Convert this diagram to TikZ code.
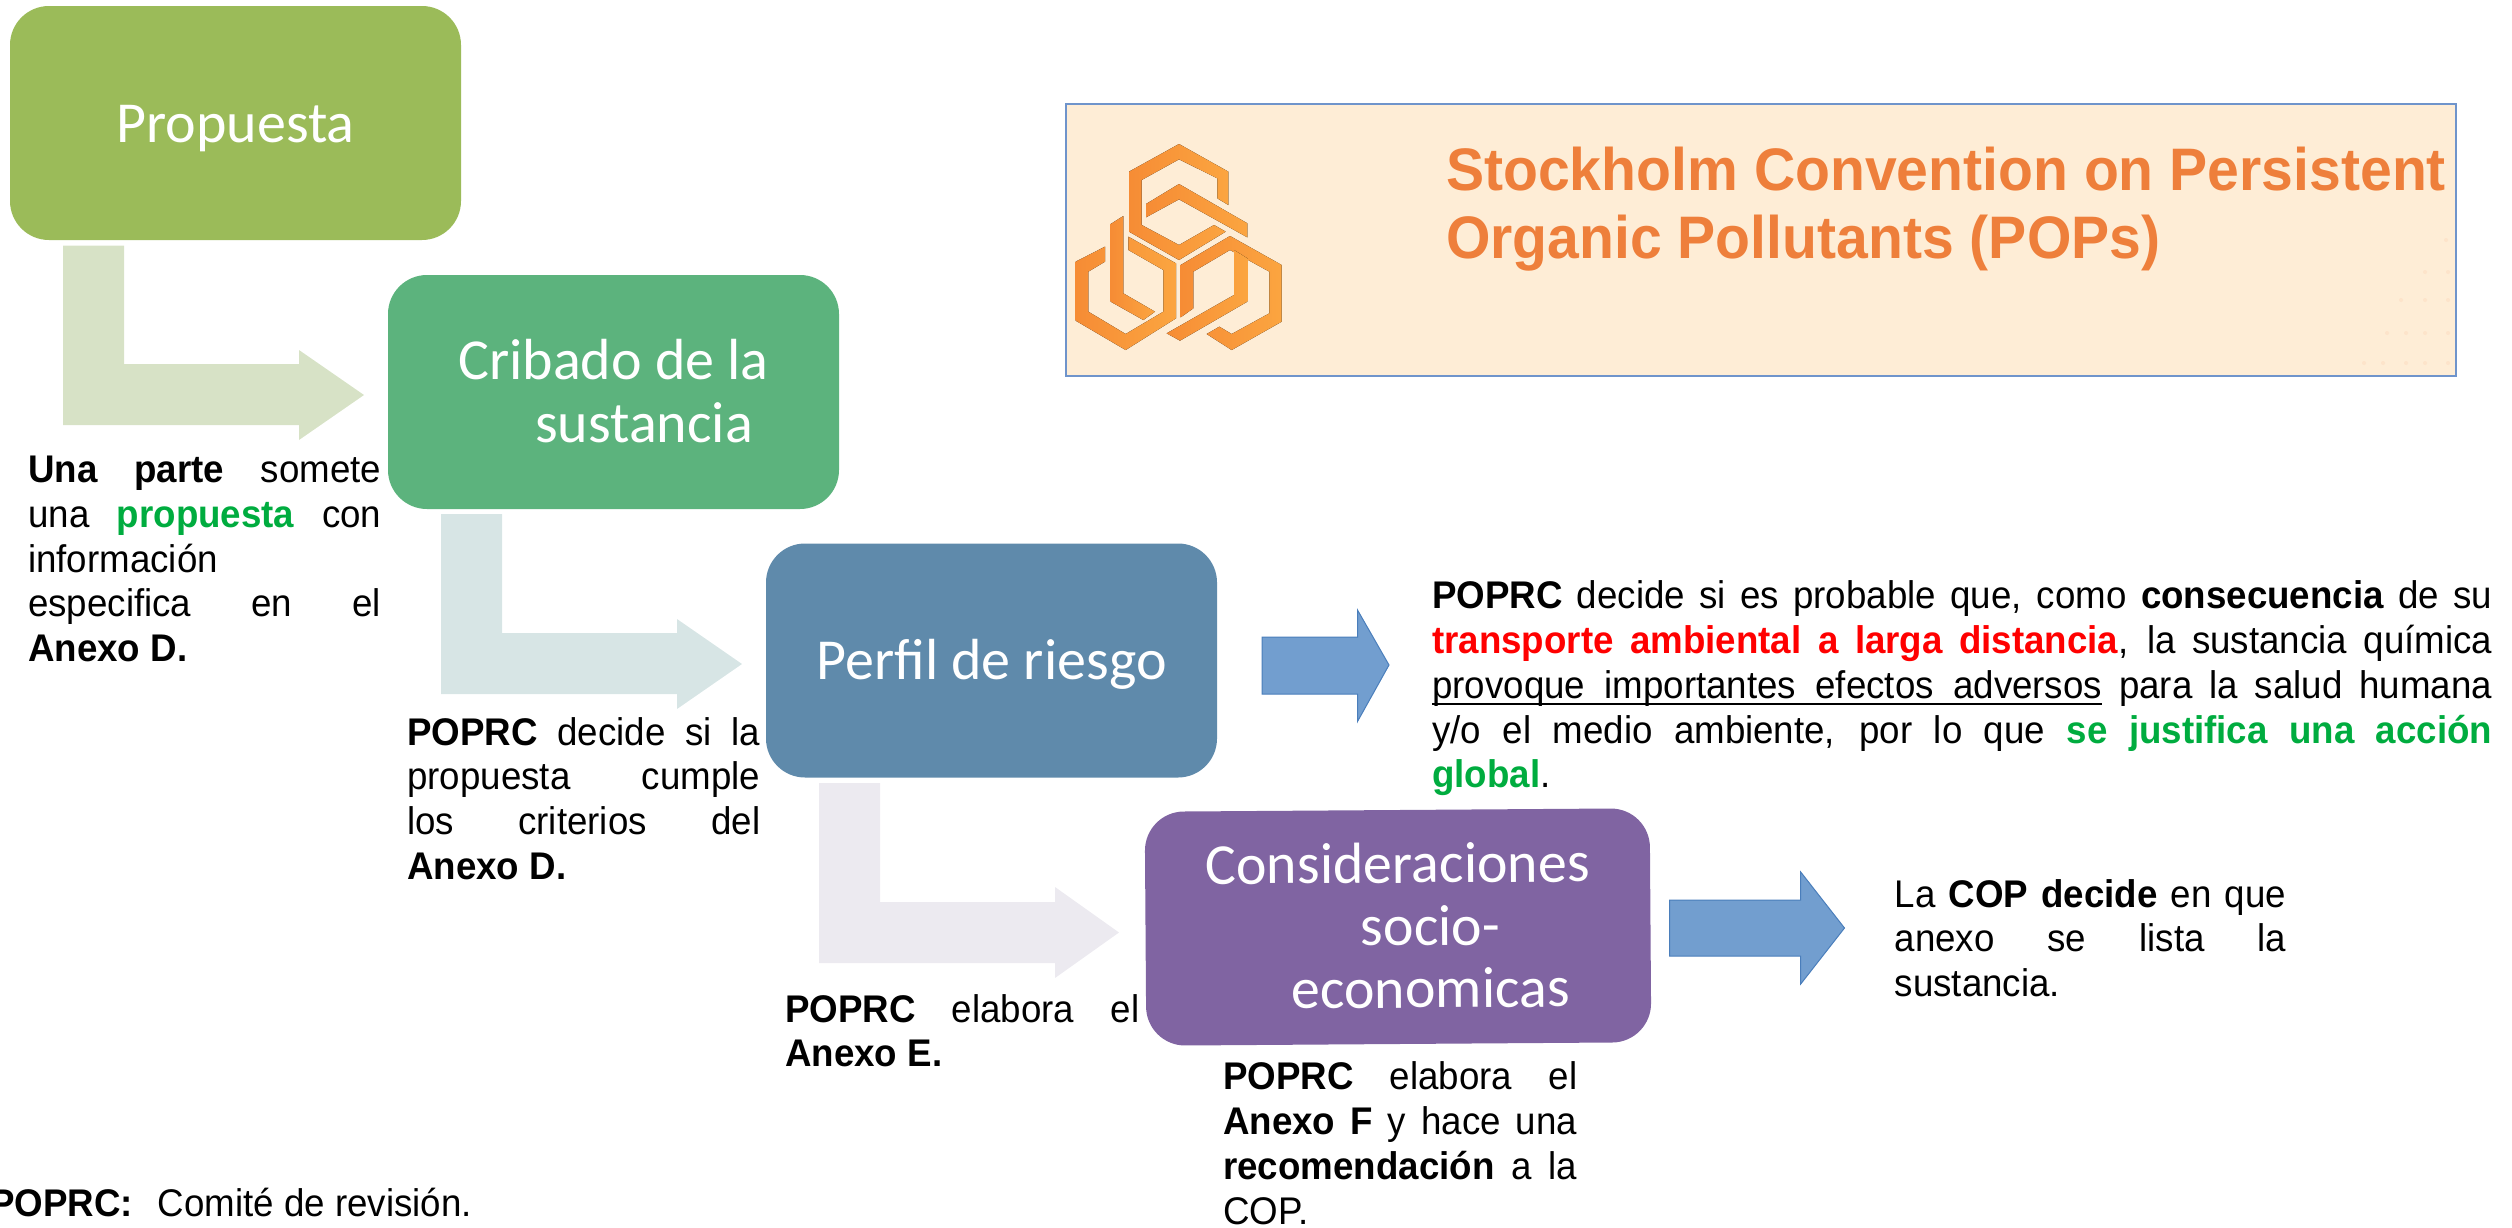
\documentclass[tikz,border=0pt]{standalone}
\usepackage{graphicx}
\usepackage{fontspec}
\setmainfont{Liberation Sans}
\newfontfamily\stagefont{Carlito}
\definecolor{stageA}{HTML}{9BBB59}
\definecolor{stageB}{HTML}{5CB37D}
\definecolor{stageC}{HTML}{5F8AAB}
\definecolor{stageD}{HTML}{8064A2}
\definecolor{bentA}{HTML}{D7E2C6}
\definecolor{bentB}{HTML}{D7E5E5}
\definecolor{bentC}{HTML}{ECEAF0}
\definecolor{blockfill}{HTML}{729ECF}
\definecolor{blockline}{HTML}{4A7EBB}
\definecolor{okgreen}{HTML}{00AC3F}
\definecolor{panelfill}{HTML}{FEEDD6}
\definecolor{panelline}{HTML}{6F94CB}
\definecolor{bannertext}{HTML}{EE7F3B}
\definecolor{logoA}{HTML}{F68C35}
\definecolor{logoB}{HTML}{FBA540}
\newcommand{\stagetext}[2]{\smash{\raisebox{#1}{\vtop{\fontsize{58}{62.5}\selectfont\stagefont #2}}}}
\newcommand{\bodytext}[2]{\scalebox{1}[1.05]{\parbox[t]{#1}{\fontsize{36.7}{42.67}\selectfont #2}}}
\newcommand{\jl}[1]{\hbox to \hsize{#1}}
\tikzset{
  stage/.style={rectangle,rounded corners=39pt,draw=none,inner sep=0pt,minimum width=451pt,minimum height=234pt,text=white},
  para/.style={anchor=base west,inner sep=0pt,text=black},
  bent/.style={draw=none},
  block/.style={fill=blockfill,draw=blockline,line width=1pt},
  logopart/.style={left color=logoA,right color=logoB,draw=none}
}
\begin{document}
\begin{tikzpicture}[x=1pt,y=-1pt]
\useasboundingbox (0,0) rectangle (2512,1227);
\clip (0,0) rectangle (2512,1227);

% bent arrows
\fill[bentA,bent] (63,245.5) -- (124,245.5) -- (124,364) -- (299,364) -- (299,350) -- (364,395) -- (299,440) -- (299,425) -- (63,425) -- cycle;
\fill[bentB,bent] (441,514) -- (502,514) -- (502,633) -- (677,633) -- (677,619) -- (742,664) -- (677,709) -- (677,694) -- (441,694) -- cycle;
\fill[bentC,bent] (819,783) -- (880,783) -- (880,902) -- (1055,902) -- (1055,887) -- (1119,932.5) -- (1055,978) -- (1055,963) -- (819,963) -- cycle;

% stages
\node[stage,fill=stageA] (propuesta) at (235.5,123) {\stagetext{-19pt}{\hbox{Propuesta}}};
\node[stage,fill=stageB] (cribado) at (613.5,392) {\stagetext{12.5pt}{\hbox{Cribado de la}\hbox{\kern77pt sustancia}}};
\node[stage,fill=stageC] (perfil) at (991.5,660.5) {\stagetext{-18.5pt}{\hbox{Perfil de riesgo}}};
\node[stage,fill=stageD,minimum width=505pt,rotate=0.4] (socio) at (1398,927) {\stagetext{44pt}{\hbox{Consideraciones}\hbox{\kern155pt socio-}\hbox{\kern85pt economicas}}};

% block arrows
\draw[block] (1262,637) -- (1357.5,637) -- (1357.5,610) -- (1389,665) -- (1357.5,721.5) -- (1357.5,694) -- (1262,694) -- cycle;
\draw[block] (1669.5,900) -- (1800.7,900) -- (1800.7,872) -- (1844.5,928) -- (1800.7,984) -- (1800.7,956) -- (1669.5,956) -- cycle;

% body text
\node[para] (tA) at (28,482.5) {\bodytext{353pt}{\jl{\textbf{Una parte} somete}\jl{una \textcolor{okgreen}{\textbf{propuesta}} con}\hbox{información}\jl{especifica en el}\hbox{\textbf{Anexo D.}}}};
\node[para] (tB) at (407,745) {\bodytext{353pt}{\jl{\textbf{POPRC} decide si la}\jl{propuesta cumple}\jl{los criterios del}\hbox{\textbf{Anexo D.}}}};
\node[para] (tC) at (785,1022) {\bodytext{354pt}{\jl{\textbf{POPRC} elabora el}\hbox{\textbf{Anexo E.}}}};
\node[para] (tD) at (1223,1089.6) {\bodytext{354pt}{\jl{\textbf{POPRC} elabora el}\jl{\textbf{Anexo F} y hace una}\jl{\textbf{recomendación} a la}\hbox{COP.}}};
\node[para] (tE) at (1432,608.7) {\bodytext{1060pt}{\jl{\textbf{POPRC} decide si es probable que, como \textbf{consecuencia} de su}\jl{\textcolor{red}{\textbf{transporte ambiental a larga distancia}}, la sustancia química}\jl{\rlap{\rule[-6.5pt]{670pt}{2.5pt}}\hbox to 670pt{provoque importantes efectos adversos} para la salud humana}\jl{y/o el medio ambiente, por lo que \textcolor{okgreen}{\textbf{se justifica una acción}}}\hbox{\textcolor{okgreen}{\textbf{global}}.}}};
\node[para] (tF) at (1894.5,907) {\bodytext{391.5pt}{\jl{La \textbf{COP decide} en que}\jl{anexo se lista la}\hbox{sustancia.}}};
\node[para] (tG) at (-10,1216) {\scalebox{1}[1.05]{\fontsize{36.7}{42.67}\selectfont\textbf{POPRC:}\kern25pt Comité de revisión.}};

% banner panel
\node[rectangle,fill=panelfill,draw=panelline,line width=1.5pt,minimum width=1390pt,minimum height=272pt,inner sep=0pt] (panel) at (1761,240) {};
\foreach \x/\y in {2446/240,2425/272,2448/272,2401/300,2425/300,2448/300,2387/333,2406/333,2425/333,2448/333,2364/363,2383/363,2406/363,2425/363,2448/363}
  \fill[panelfill!92!bannertext] (\x,\y) circle (2pt);
\node[anchor=base west,inner sep=0pt,text=bannertext] (bannerA) at (1446,190) {\scalebox{0.952}[1]{\fontsize{60}{60}\selectfont\bfseries Stockholm Convention on Persistent}};
\node[anchor=base west,inner sep=0pt,text=bannertext] (bannerB) at (1446,258) {\scalebox{0.952}[1]{\fontsize{60}{60}\selectfont\bfseries Organic Pollutants (POPs)}};

% logo
\begin{scope}[shift={(1060,130)},x=0.33333pt,y=-0.33333pt]
\fill[logopart] (505,225) -- (472,205) -- (472,145) -- (357,88) -- (245,150) -- (245,285) -- (357,345) -- (462,285) -- (497,305) -- (357,390) -- (207,305) -- (207,125) -- (357,42) -- (505,125) -- cycle;
\fill[logopart] (357,162) -- (562,280) -- (562,322) -- (357,208) -- (258,262) -- (258,222) -- cycle;
\fill[logopart] (135,350) -- (135,395) -- (85,425) -- (85,545) -- (197,612) -- (310,545) -- (310,420) -- (205,360) -- (205,320) -- (348,400) -- (348,565) -- (197,660) -- (47,572) -- (47,395) -- cycle;
\fill[logopart] (190,258) -- (190,490) -- (285,545) -- (250,570) -- (152,515) -- (152,282) -- cycle;
\fill[logopart] (362,405) -- (510,318) -- (665,405) -- (665,575) -- (515,660) -- (440,612) -- (478,590) -- (515,612) -- (628,550) -- (628,425) -- (510,360) -- (400,425) -- (400,535) -- (362,562) -- cycle;
\fill[logopart] (522,360) -- (562,385) -- (562,515) -- (360,632) -- (320,610) -- (522,495) -- cycle;
\end{scope}
\end{tikzpicture}
\end{document}
